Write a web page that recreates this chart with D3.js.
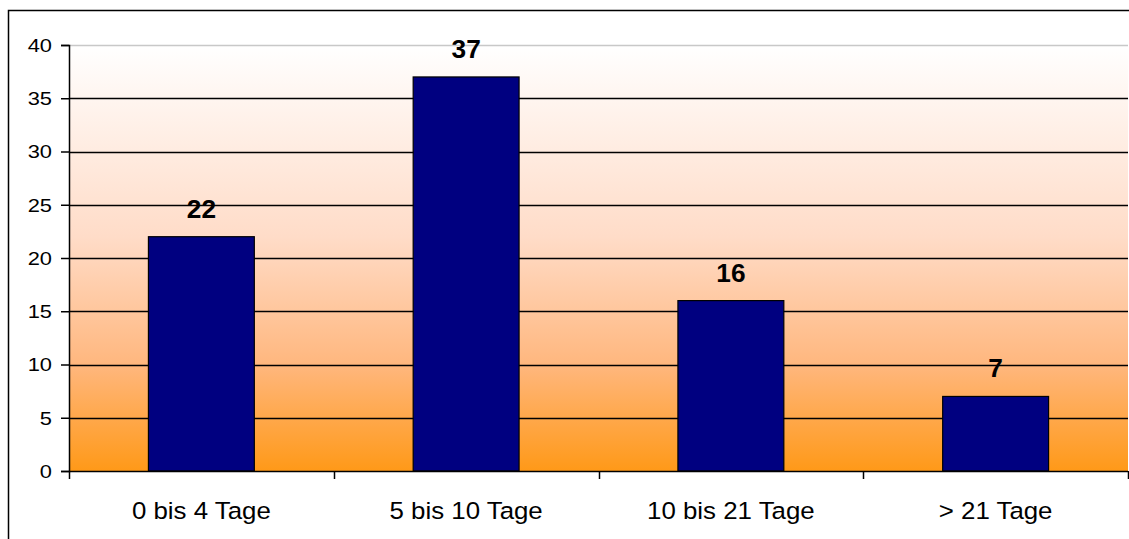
<!DOCTYPE html>
<html><head><meta charset="utf-8">
<script src="https://cdn.jsdelivr.net/npm/d3@7"></script>
<style>html,body{margin:0;padding:0;background:#fff;}svg{display:block;}</style>
</head><body>
<script>
const categories = ["0 bis 4 Tage", "5 bis 10 Tage", "10 bis 21 Tage", "> 21 Tage"];
const values = [22, 37, 16, 7];
const yTicks = [0, 5, 10, 15, 20, 25, 30, 35, 40];

const W = 1129, H = 539;
const m = {left: 69, right: 1128, top: 45, bottom: 471};
const FONT = "Liberation Sans, Arial, sans-serif";
const svg = d3.select("body").append("svg").attr("width", W).attr("height", H);

const defs = svg.append("defs");
const grad = defs.append("linearGradient").attr("id", "bg").attr("x1", 0).attr("y1", 0).attr("x2", 0).attr("y2", 1);
grad.append("stop").attr("offset", "0%").attr("stop-color", "#FFFFFF");
grad.append("stop").attr("offset", "45%").attr("stop-color", "#FFDCC8");
grad.append("stop").attr("offset", "75%").attr("stop-color", "#FFB77E");
grad.append("stop").attr("offset", "100%").attr("stop-color", "#FF9918");

// chart border
svg.append("rect").attr("x", 8.5).attr("y", 10.5).attr("width", W + 10).attr("height", H + 10)
  .attr("fill", "none").attr("stroke", "#000").attr("stroke-width", 1.5);

const x = d3.scaleBand().domain(categories).range([m.left, m.right]).paddingInner(0.6).paddingOuter(0.3);
const xb = d3.scaleBand().domain(categories).range([m.left, m.right]);
const y = d3.scaleLinear().domain([0, 40]).range([m.bottom, m.top]);

svg.append("rect").attr("x", m.left).attr("y", m.top).attr("width", m.right - m.left).attr("height", m.bottom - m.top)
  .attr("fill", "url(#bg)");

// gridlines
svg.append("g").selectAll("line").data(yTicks.filter(d => d > 0)).join("line")
  .attr("x1", m.left).attr("x2", m.right)
  .attr("y1", d => Math.round(y(d)) + 0.5).attr("y2", d => Math.round(y(d)) + 0.5)
  .attr("stroke", d => d === 40 ? "#C8C8C8" : "#000").attr("stroke-width", d => d === 40 ? 1.5 : 1.3);

// bars
svg.append("g").selectAll("rect").data(values).join("rect")
  .attr("x", (d, i) => x(categories[i]))
  .attr("y", d => y(d))
  .attr("width", x.bandwidth())
  .attr("height", d => y(0) - y(d))
  .attr("fill", "#000080").attr("stroke", "#000").attr("stroke-width", 1.2);

// y axis
const yAxis = d3.axisLeft(y).tickValues(yTicks).tickSize(8).tickFormat(() => "");
const gy = svg.append("g").attr("transform", `translate(${m.left},0)`).call(yAxis);
gy.select(".domain").attr("stroke", "#000").attr("stroke-width", 1.5);
gy.selectAll(".tick line").attr("stroke", "#000").attr("stroke-width", 1.5);
svg.append("g").selectAll("text").data(yTicks).join("text")
  .attr("transform", d => `translate(52,${y(d)}) scale(1.15,1)`)
  .attr("text-anchor", "end").attr("dy", "0.36em")
  .attr("font-family", FONT).attr("font-size", 19).attr("fill", "#000").text(d => d);

// x axis
const bounds = categories.map(c => xb(c)).concat([m.right]);
svg.append("line").attr("x1", m.left).attr("x2", m.right).attr("y1", m.bottom + 0.5).attr("y2", m.bottom + 0.5)
  .attr("stroke", "#000").attr("stroke-width", 1.5);
svg.append("g").selectAll("line").data(bounds).join("line")
  .attr("x1", d => Math.round(d) + 0.5).attr("x2", d => Math.round(d) + 0.5)
  .attr("y1", m.bottom).attr("y2", m.bottom + 8).attr("stroke", "#000").attr("stroke-width", 1.5);
svg.append("g").selectAll("text").data(categories).join("text")
  .attr("transform", d => `translate(${xb(d) + xb.bandwidth() / 2},519) scale(1.1,1)`)
  .attr("text-anchor", "middle").attr("font-family", FONT)
  .attr("font-size", 23.5).attr("fill", "#000").text(d => d);

// value labels
svg.append("g").selectAll("text").data(values).join("text")
  .attr("transform", (d, i) => `translate(${x(categories[i]) + x.bandwidth() / 2},${y(d) - 19}) scale(1.05,1)`)
  .attr("text-anchor", "middle").attr("font-family", FONT)
  .attr("font-weight", "bold").attr("font-size", 25).attr("fill", "#000").text(d => d);
</script>
</body></html>
